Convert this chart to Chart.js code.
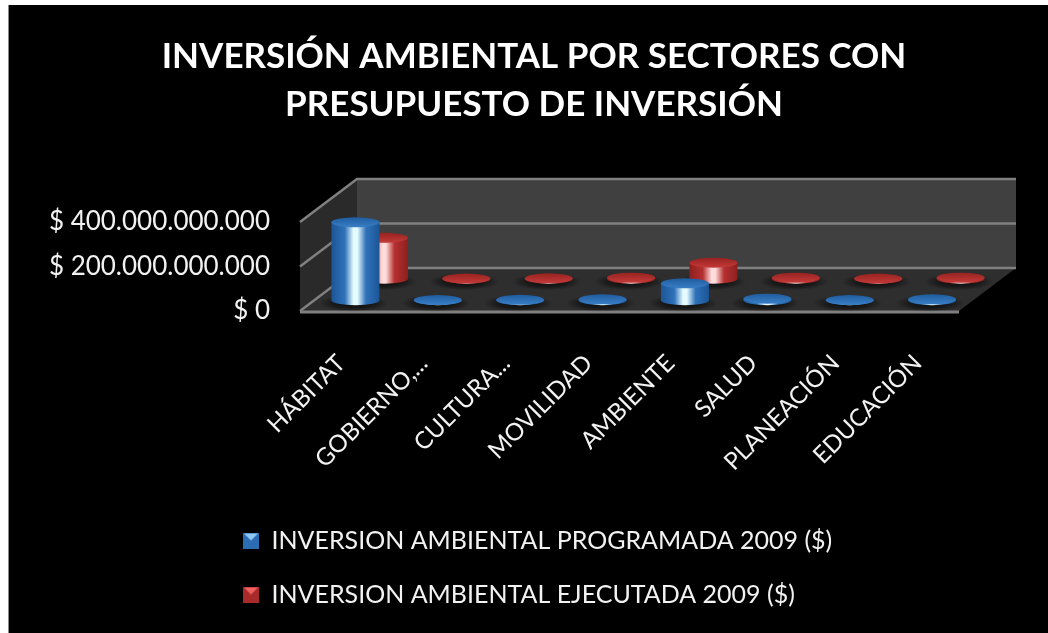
<!DOCTYPE html>
<html>
<head>
<meta charset="utf-8">
<title>Inversión ambiental por sectores</title>
<script src="https://cdn.jsdelivr.net/npm/chart.js@4"></script>
<style>
    html, body { margin: 0; padding: 0; background: #fff; overflow: hidden; }
    #panel { position: absolute; left: 8px; top: 5px; right: 0; bottom: 0; background: #000; border-left: 1px solid #888; }
    #sectorChart { position: absolute; left: 0; top: 0; }
</style>
</head>
<body>
<div id="panel"></div>
<canvas id="sectorChart" width="1048" height="633"></canvas>
<script>
// --- 1. Data ---
const sectors = ['HÁBITAT', 'GOBIERNO,...', 'CULTURA...', 'MOVILIDAD', 'AMBIENTE', 'SALUD', 'PLANEACIÓN', 'EDUCACIÓN'];
const programada = [350e9, 1e9, 2e9, 4e9, 76e9, 7e9, 1e9, 4e9];
const ejecutada = [184e9, 1e9, 2e9, 5e9, 72e9, 5e9, 1e9, 5e9];
const seriesNames = ['INVERSION AMBIENTAL PROGRAMADA 2009 ($)', 'INVERSION AMBIENTAL EJECUTADA 2009 ($)'];
const titleLines = ['INVERSIÓN AMBIENTAL POR SECTORES CON', 'PRESUPUESTO DE INVERSIÓN'];

// --- 2. Look of the fake 3D box ---
const FONT = 'Lato, "Open Sans", sans-serif';
const DEPTH = { x: 57, y: -43 };
const SERIES_DEPTH = [0.25, 0.75]; // share of the box depth for each series
const CAP_RY = 5;
const SHADES = {
    '#2b6cb2': { edge: '#1c5596', mid: '#2f72ba', glow: '#e6fbff', capTop: '#1f5c9f', capBottom: '#3a7fc6' },
    '#a82a2a': { edge: '#8e1f1f', mid: '#b53030', glow: '#ffdcdc', capTop: '#96231f', capBottom: '#c43a3a' }
};

function formatPesos(value) {
    return '$ ' + String(value).replace(/\B(?=(\d{3})+$)/g, '.');
}

// --- 3. Cylinder bars ---
class CylinderElement extends Chart.BarElement {
    static id = 'cylinder';

    draw(ctx) {
        const { x, y, base, width } = this.getProps(['x', 'y', 'base', 'width'], true);
        const shade = SHADES[this.options.backgroundColor];
        const rx = width / 2;
        const left = x - rx;

        ctx.save();

        // soft shadow on the floor
        const shadow = ctx.createRadialGradient(0, 0, 0, 0, 0, 1);
        shadow.addColorStop(0, 'rgba(0,0,0,0.75)');
        shadow.addColorStop(0.6, 'rgba(0,0,0,0.45)');
        shadow.addColorStop(1, 'rgba(0,0,0,0)');
        ctx.save();
        ctx.translate(x - 2, base + 3);
        ctx.scale(rx * 1.45, CAP_RY * 1.7);
        ctx.fillStyle = shadow;
        ctx.beginPath();
        ctx.arc(0, 0, 1, 0, Math.PI * 2);
        ctx.fill();
        ctx.restore();

        // body
        const body = ctx.createLinearGradient(left, 0, left + width, 0);
        body.addColorStop(0, shade.edge);
        body.addColorStop(0.28, shade.mid);
        body.addColorStop(0.46, shade.glow);
        body.addColorStop(0.54, shade.glow);
        body.addColorStop(0.72, shade.mid);
        body.addColorStop(1, shade.edge);
        ctx.fillStyle = body;
        ctx.beginPath();
        ctx.moveTo(left, y);
        ctx.lineTo(left, base);
        ctx.ellipse(x, base, rx, CAP_RY, 0, Math.PI, 0, true);
        ctx.lineTo(left + width, y);
        ctx.closePath();
        ctx.fill();

        // cap
        const cap = ctx.createLinearGradient(0, y - CAP_RY, 0, y + CAP_RY);
        cap.addColorStop(0, shade.capTop);
        cap.addColorStop(1, shade.capBottom);
        ctx.fillStyle = cap;
        ctx.beginPath();
        ctx.ellipse(x, y, rx, CAP_RY, 0, 0, Math.PI * 2);
        ctx.fill();

        ctx.restore();
    }
}

class CylinderController extends Chart.BarController {
    static id = 'cylinder';
    static defaults = { ...Chart.BarController.defaults, dataElementType: 'cylinder' };
}

Chart.register(CylinderElement, CylinderController);

// --- 4. Plugins ---
// Walls, floor and gridlines, all hung on the chart's own scales
const boxPlugin = {
    id: 'box3d',
    beforeDatasetsDraw(chart) {
        const { ctx, chartArea: { left, right, top, bottom }, scales: { y } } = chart;
        const dx = DEPTH.x, dy = DEPTH.y;

        function fillShape(color, points) {
            ctx.fillStyle = color;
            ctx.beginPath();
            points.forEach((p, i) => i ? ctx.lineTo(p[0], p[1]) : ctx.moveTo(p[0], p[1]));
            ctx.closePath();
            ctx.fill();
        }

        ctx.save();
        fillShape('#404040', [[left + dx, top + dy], [right + dx, top + dy], [right + dx, bottom + dy], [left + dx, bottom + dy]]);
        fillShape('#2a2a2a', [[left, top], [left + dx, top + dy], [left + dx, bottom + dy], [left, bottom]]);
        fillShape('#2e2e2e', [[left, bottom], [left + dx, bottom + dy], [right + dx, bottom + dy], [right, bottom]]);

        ctx.strokeStyle = '#808080';
        ctx.lineWidth = 2.5;
        y.ticks.forEach(tick => {
            const py = y.getPixelForValue(tick.value);
            ctx.beginPath();
            ctx.moveTo(left, py);
            ctx.lineTo(left + dx, py + dy);
            ctx.lineTo(right + dx, py + dy);
            ctx.stroke();
        });

        // front edge of the floor
        ctx.lineWidth = 3;
        ctx.beginPath();
        ctx.moveTo(left, bottom + 1);
        ctx.lineTo(right, bottom + 1);
        ctx.stroke();
        ctx.restore();
    },
    beforeDatasetDraw(chart, args) {
        const share = SERIES_DEPTH[args.index];
        chart.ctx.save();
        chart.ctx.translate(DEPTH.x * share, DEPTH.y * share);
    },
    afterDatasetDraw(chart) {
        chart.ctx.restore();
    },
    afterLayout(chart) {
        // left-aligned rows under the plot, title off centre, as in the original
        const legend = chart.legend;
        legend.left = 214;
        legend.top = 499;
        legend.adjustHitBoxes();
        chart.titleBlock.left = 20;
        chart.titleBlock.right = 1048;
    }
};

function makeSwatch(color, light) {
    const swatch = document.createElement('canvas');
    swatch.width = 16;
    swatch.height = 16;
    const c = swatch.getContext('2d');
    c.fillStyle = color;
    c.fillRect(0, 0, 16, 16);
    c.fillStyle = light;
    c.beginPath();
    c.moveTo(1, 1);
    c.lineTo(15, 1);
    c.lineTo(8, 8);
    c.closePath();
    c.fill();
    return swatch;
}

const swatches = [makeSwatch('#2b6cb2', '#8fc8f5'), makeSwatch('#a82a2a', '#f06060')];

// --- 5. Chart ---
new Chart(document.getElementById('sectorChart'), {
    type: 'cylinder',
    data: {
        labels: sectors,
        datasets: [
            { label: seriesNames[0], data: programada, backgroundColor: '#2b6cb2', grouped: false, barThickness: 48, clip: false },
            { label: seriesNames[1], data: ejecutada, backgroundColor: '#a82a2a', grouped: false, barThickness: 48, clip: false }
        ]
    },
    options: {
        responsive: false,
        animation: false,
        layout: { padding: { right: 89 } },
        scales: {
            x: {
                type: 'category',
                offset: true,
                grid: { display: false },
                border: { display: false },
                afterFit: scale => { scale.height = 322 - scale.chart.legend.height; },
                ticks: {
                    color: '#f2f2f2',
                    font: { family: FONT, size: 24 },
                    minRotation: 45,
                    maxRotation: 45,
                    autoSkip: false,
                    padding: 30
                }
            },
            y: {
                min: 0,
                max: 400e9,
                grid: { display: false },
                border: { display: false },
                afterFit: scale => { scale.width = 300; },
                ticks: {
                    stepSize: 200e9,
                    color: '#f2f2f2',
                    font: { family: FONT, size: 26 },
                    padding: 22,
                    callback: formatPesos
                }
            }
        },
        plugins: {
            tooltip: { enabled: false },
            title: {
                display: true,
                text: titleLines,
                color: '#ffffff',
                font: { family: FONT, size: 35, weight: 'bold', lineHeight: 1.37 },
                padding: { top: 33, bottom: 93 }
            },
            legend: {
                position: 'bottom',
                align: 'start',
                labels: {
                    color: '#f2f2f2',
                    font: { family: FONT, size: 25 },
                    boxWidth: 16,
                    boxHeight: 16,
                    padding: 29,
                    usePointStyle: true,
                    generateLabels: chart => chart.data.datasets.map((ds, i) => ({
                        text: ds.label,
                        fontColor: '#f2f2f2',
                        pointStyle: swatches[i],
                        datasetIndex: i
                    }))
                }
            }
        }
    },
    plugins: [boxPlugin]
});
</script>
</body>
</html>
